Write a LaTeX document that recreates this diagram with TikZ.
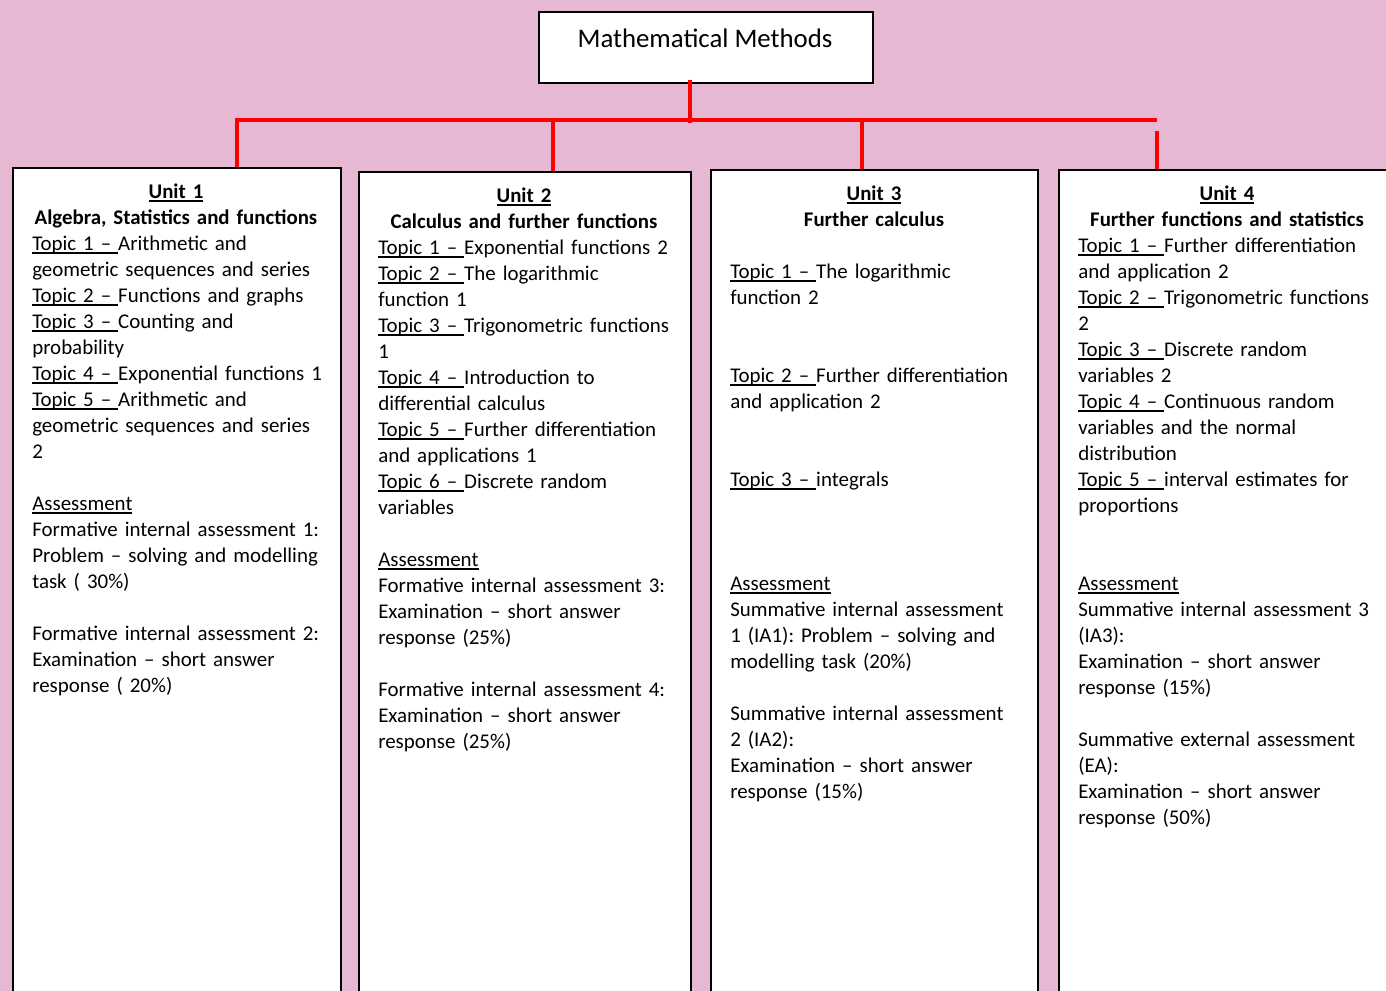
\documentclass[tikz,border=0pt]{standalone}
\usepackage{fontspec}
\setmainfont{Carlito}
\frenchspacing
\definecolor{bgpink}{HTML}{E6B8D4}
\newcommand\pxu{0.75pt}
% underline that sits just under the baseline, crossing descenders
\newcommand\uln[1]{\leavevmode\setbox0\hbox{#1}\rlap{\rule[-2pt]{\wd0}{0.9pt}}\box0}
\newcommand\gapline{\\[19.5pt]}
\begin{document}
\begin{tikzpicture}[x=0.75pt,y=-0.75pt,
  titlebox/.style={draw=black, line width=1.5pt, fill=white, anchor=north west, inner sep=0pt},
  unitbox/.style={draw=black, line width=1.5pt, fill=white, anchor=north west, inner sep=0pt,
    minimum height=860*\pxu},
  redline/.style={draw=red, line width=2.7pt, line join=miter},
  headtext/.style={anchor=base, align=center, inner sep=0pt, text width=340*\pxu,
    font=\fontsize{15.65}{19.5}\selectfont\bfseries},
  bodytext/.style={anchor=base west, align=left, inner sep=0pt, text width=400*\pxu,
    font=\fontsize{15.7}{19.5}\selectfont}]
\useasboundingbox (0,0) rectangle (1386,991);
\fill[bgpink] (0,0) rectangle (1386,991);

\begin{scope}
\clip (0,0) rectangle (1386,991);

% title
\node[titlebox, minimum width=334*\pxu, minimum height=71*\pxu] (title) at (538,11) {};
\node[anchor=base, inner sep=0pt, font=\fontsize{20.1}{24}\selectfont] (titletext) at (705,48) {Mathematical Methods};

% unit boxes
\node[unitbox, minimum width=328*\pxu] (u1) at (12,167) {};
\node[unitbox, minimum width=332*\pxu] (u2) at (358,171) {};
\node[unitbox, minimum width=327*\pxu] (u3) at (710,169) {};
\node[unitbox, minimum width=340*\pxu] (u4) at (1058,169) {};

% red connectors
\coordinate (hub) at (690,120);
\coordinate (b1) at (237,120);
\coordinate (b2) at (553,120);
\coordinate (b3) at (862,120);
\coordinate (b4) at (1157,120);
\coordinate (b4s) at (1157,131);
\draw[redline] ([yshift=3pt]title.south -| hub) -- ([yshift=-2pt]hub);
\draw[redline] (b1 |- u1.north) -- (b1) -- (b4);
\draw[redline] (b2) -- (b2 |- u2.north);
\draw[redline] (b3) -- (b3 |- u3.north);
\draw[redline] (b4s) -- (b4s |- u4.north);

% unit 1
\node[headtext] (h1) at (176,199) {\uln{Unit 1}\\Algebra, Statistics and functions};
\node[bodytext] (t1) at (32,251) {%
\uln{Topic 1 –\ }Arithmetic and\\
geometric sequences and series\\
\uln{Topic 2 –\ }Functions and graphs\\
\uln{Topic 3 –\ }Counting and\\
probability\\
\uln{Topic 4 –\ }Exponential functions 1\\
\uln{Topic 5 –\ }Arithmetic and\\
geometric sequences and series\\
2\gapline
\uln{Assessment}\\
Formative internal assessment 1:\\
Problem – solving and modelling\\
task ( 30\%)\gapline
Formative internal assessment 2:\\
Examination – short answer\\
response ( 20\%)};

% unit 2
\node[headtext] (h2) at (524,203) {\uln{Unit 2}\\Calculus and further functions};
\node[bodytext] (t2) at (378,255) {%
\uln{Topic 1 –\ }Exponential functions 2\\
\uln{Topic 2 –\ }The logarithmic\\
function 1\\
\uln{Topic 3 –\ }Trigonometric functions\\
1\\
\uln{Topic 4 –\ }Introduction to\\
differential calculus\\
\uln{Topic 5 –\ }Further differentiation\\
and applications 1\\
\uln{Topic 6 –\ }Discrete random\\
variables\gapline
\uln{Assessment}\\
Formative internal assessment 3:\\
Examination – short answer\\
response (25\%)\gapline
Formative internal assessment 4:\\
Examination – short answer\\
response (25\%)};

% unit 3
\node[headtext] (h3) at (874,201) {\uln{Unit 3}\\Further calculus};
\node[bodytext] (t3) at (730,279) {%
\uln{Topic 1 –\ }The logarithmic\\
function 2\\[39pt]
\uln{Topic 2 –\ }Further differentiation\\
and application 2\\[39pt]
\uln{Topic 3 –\ }integrals\\[58.5pt]
\uln{Assessment}\\
Summative internal assessment\\
1 (IA1): Problem – solving and\\
modelling task (20\%)\gapline
Summative internal assessment\\
2 (IA2):\\
Examination – short answer\\
response (15\%)};

% unit 4
\node[headtext] (h4) at (1227,201) {\uln{Unit 4}\\Further functions and statistics};
\node[bodytext] (t4) at (1078,253) {%
\uln{Topic 1 –\ }Further differentiation\\
and application 2\\
\uln{Topic 2 –\ }Trigonometric functions\\
2\\
\uln{Topic 3 –\ }Discrete random\\
variables 2\\
\uln{Topic 4 –\ }Continuous random\\
variables and the normal\\
distribution\\
\uln{Topic 5 –\ }interval estimates for\\
proportions\\[39pt]
\uln{Assessment}\\
Summative internal assessment 3\\
(IA3):\\
Examination – short answer\\
response (15\%)\gapline
Summative external assessment\\
(EA):\\
Examination – short answer\\
response (50\%)};
\end{scope}
\end{tikzpicture}
\end{document}
